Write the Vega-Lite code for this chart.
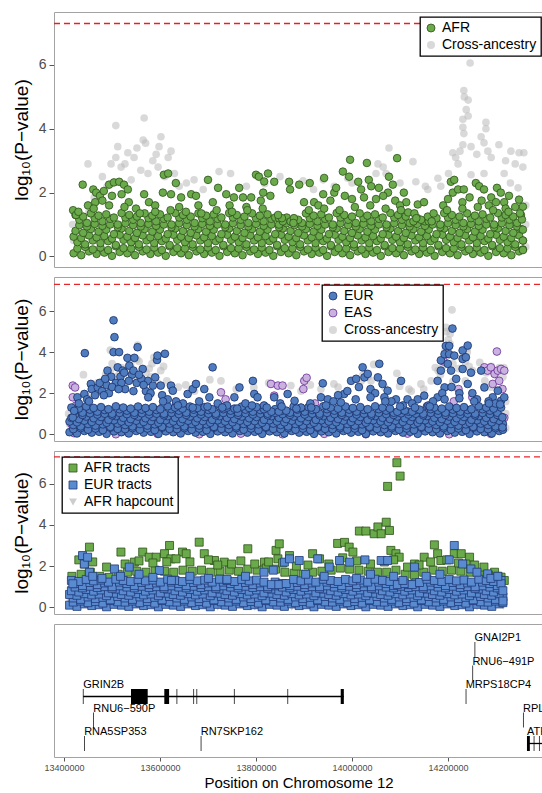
{
"$schema":"https://vega.github.io/schema/vega-lite/v6.json",
"padding":{"left":11,"top":12,"right":0,"bottom":0},
"bounds":"flush",
"spacing":10,
"config":{"font":"Liberation Sans","view":{"stroke":null},
"axis":{"grid":false,"domainColor":"#a3a3a3","domainWidth":1,"tickColor":"#555555","labelColor":"#4d4d4d","titleFontWeight":"normal","titleColor":"#000000","labelFlush":false},
"legend":{"strokeColor":"#000000","strokeWidth":1.3,"fillColor":"#ffffff","padding":4,"labelFontSize":14,"labelColor":"#000000","symbolSize":64,"symbolStrokeWidth":0.8,"rowPadding":3,"labelOffset":4,"cornerRadius":0}},
"resolve":{"scale":{"fill":"independent","stroke":"independent","shape":"independent"},"legend":{"fill":"independent","stroke":"independent","shape":"independent"}},
"datasets":{
"gw":[{"p":7.3}],
"ca":[{"x":13418,"y":1.0},{"x":13420,"y":0.5},{"x":13450,"y":2.9},{"x":13452,"y":1.4},{"x":13463,"y":1.85},{"x":13480,"y":2.5},{"x":13490,"y":2.2},{"x":13498,"y":2.9},{"x":13508,"y":4.1},{"x":13508,"y":3.1},{"x":13512,"y":3.44},{"x":13519,"y":2.8},{"x":13527,"y":2.9},{"x":13533,"y":3.25},{"x":13540,"y":2.4},{"x":13546,"y":3.1},{"x":13552,"y":3.4},{"x":13560,"y":2.7},{"x":13565,"y":3.65},{"x":13567,"y":4.34},{"x":13570,"y":3.55},{"x":13575,"y":2.6},{"x":13585,"y":3.0},{"x":13592,"y":3.2},{"x":13596,"y":2.8},{"x":13598,"y":3.44},{"x":13602,"y":3.75},{"x":13610,"y":2.5},{"x":13617,"y":3.1},{"x":13623,"y":3.3},{"x":13630,"y":2.6},{"x":13640,"y":2.2},{"x":13655,"y":2.3},{"x":13671,"y":2.4},{"x":13690,"y":2.1},{"x":13723,"y":2.66},{"x":13747,"y":2.6},{"x":13780,"y":2.2},{"x":13818,"y":2.28},{"x":13850,"y":2.5},{"x":13898,"y":2.37},{"x":13920,"y":2.1},{"x":13940,"y":2.4},{"x":13963,"y":2.2},{"x":13991,"y":2.45},{"x":14000,"y":2.3},{"x":14050,"y":2.6},{"x":14054,"y":2.9},{"x":14065,"y":2.8},{"x":14071,"y":2.6},{"x":14077,"y":3.4},{"x":14100,"y":2.3},{"x":14127,"y":2.97},{"x":14133,"y":2.34},{"x":14153,"y":2.2},{"x":14158,"y":2.1},{"x":14179,"y":2.45},{"x":14185,"y":2.2},{"x":14201,"y":2.6},{"x":14210,"y":3.25},{"x":14216,"y":3.1},{"x":14221,"y":2.9},{"x":14225,"y":3.3},{"x":14231,"y":3.5},{"x":14231,"y":4.3},{"x":14231,"y":4.05},{"x":14233,"y":5.2},{"x":14233,"y":3.85},{"x":14234,"y":5.0},{"x":14238,"y":4.6},{"x":14242,"y":4.9},{"x":14242,"y":4.4},{"x":14246,"y":6.06},{"x":14248,"y":3.44},{"x":14248,"y":2.56},{"x":14260,"y":3.2},{"x":14269,"y":3.75},{"x":14275,"y":3.56},{"x":14275,"y":2.6},{"x":14279,"y":4.2},{"x":14279,"y":4.0},{"x":14283,"y":3.3},{"x":14290,"y":3.1},{"x":14306,"y":3.5},{"x":14317,"y":2.6},{"x":14320,"y":3.0},{"x":14330,"y":2.3},{"x":14331,"y":3.3},{"x":14340,"y":2.9},{"x":14346,"y":2.15},{"x":14348,"y":3.25},{"x":14356,"y":2.8},{"x":14358,"y":3.25},{"x":14362,"y":0.3},{"x":14362,"y":1.0},{"x":14362,"y":1.6}],
"base":[{"x":13420,"y":0.1},{"x":13436,"y":0.04},{"x":13452,"y":0.16},{"x":13468,"y":0.08},{"x":13484,"y":0.12},{"x":13500,"y":0.02},{"x":13516,"y":0.14},{"x":13532,"y":0.1},{"x":13548,"y":0.04},{"x":13564,"y":0.16},{"x":13580,"y":0.08},{"x":13596,"y":0.12},{"x":13612,"y":0.02},{"x":13628,"y":0.14},{"x":13644,"y":0.1},{"x":13660,"y":0.04},{"x":13676,"y":0.16},{"x":13692,"y":0.08},{"x":13708,"y":0.12},{"x":13724,"y":0.02},{"x":13740,"y":0.14},{"x":13756,"y":0.1},{"x":13772,"y":0.04},{"x":13788,"y":0.16},{"x":13804,"y":0.08},{"x":13820,"y":0.12},{"x":13836,"y":0.02},{"x":13852,"y":0.14},{"x":13868,"y":0.1},{"x":13884,"y":0.04},{"x":13900,"y":0.16},{"x":13916,"y":0.08},{"x":13932,"y":0.12},{"x":13948,"y":0.02},{"x":13964,"y":0.14},{"x":13980,"y":0.1},{"x":13996,"y":0.04},{"x":14012,"y":0.16},{"x":14028,"y":0.08},{"x":14044,"y":0.12},{"x":14060,"y":0.02},{"x":14076,"y":0.14},{"x":14092,"y":0.1},{"x":14108,"y":0.04},{"x":14124,"y":0.16},{"x":14140,"y":0.08},{"x":14156,"y":0.12},{"x":14172,"y":0.02},{"x":14188,"y":0.14},{"x":14204,"y":0.1},{"x":14220,"y":0.04},{"x":14236,"y":0.16},{"x":14252,"y":0.08},{"x":14268,"y":0.12},{"x":14284,"y":0.02},{"x":14300,"y":0.14},{"x":14316,"y":0.1},{"x":14332,"y":0.04},{"x":14348,"y":0.16},
{"x":13428,"y":0.25},{"x":13444,"y":0.3},{"x":13460,"y":0.22},{"x":13476,"y":0.28},{"x":13492,"y":0.2},{"x":13508,"y":0.32},{"x":13524,"y":0.26},{"x":13540,"y":0.25},{"x":13556,"y":0.3},{"x":13572,"y":0.22},{"x":13588,"y":0.28},{"x":13604,"y":0.2},{"x":13620,"y":0.32},{"x":13636,"y":0.26},{"x":13652,"y":0.25},{"x":13668,"y":0.3},{"x":13684,"y":0.22},{"x":13700,"y":0.28},{"x":13716,"y":0.2},{"x":13732,"y":0.32},{"x":13748,"y":0.26},{"x":13764,"y":0.25},{"x":13780,"y":0.3},{"x":13796,"y":0.22},{"x":13812,"y":0.28},{"x":13828,"y":0.2},{"x":13844,"y":0.32},{"x":13860,"y":0.26},{"x":13876,"y":0.25},{"x":13892,"y":0.3},{"x":13908,"y":0.22},{"x":13924,"y":0.28},{"x":13940,"y":0.2},{"x":13956,"y":0.32},{"x":13972,"y":0.26},{"x":13988,"y":0.25},{"x":14004,"y":0.3},{"x":14020,"y":0.22},{"x":14036,"y":0.28},{"x":14052,"y":0.2},{"x":14068,"y":0.32},{"x":14084,"y":0.26},{"x":14100,"y":0.25},{"x":14116,"y":0.3},{"x":14132,"y":0.22},{"x":14148,"y":0.28},{"x":14164,"y":0.2},{"x":14180,"y":0.32},{"x":14196,"y":0.26},{"x":14212,"y":0.25},{"x":14228,"y":0.3},{"x":14244,"y":0.22},{"x":14260,"y":0.28},{"x":14276,"y":0.2},{"x":14292,"y":0.32},{"x":14308,"y":0.26},{"x":14324,"y":0.25},{"x":14340,"y":0.3},{"x":14356,"y":0.22},
{"x":13428,"y":0.45},{"x":13444,"y":0.38},{"x":13460,"y":0.5},{"x":13476,"y":0.42},{"x":13492,"y":0.48},{"x":13508,"y":0.36},{"x":13524,"y":0.52},{"x":13540,"y":0.45},{"x":13556,"y":0.38},{"x":13572,"y":0.5},{"x":13588,"y":0.42},{"x":13604,"y":0.48},{"x":13620,"y":0.36},{"x":13636,"y":0.52},{"x":13652,"y":0.45},{"x":13668,"y":0.38},{"x":13684,"y":0.5},{"x":13700,"y":0.42},{"x":13716,"y":0.48},{"x":13732,"y":0.36},{"x":13748,"y":0.52},{"x":13764,"y":0.45},{"x":13780,"y":0.38},{"x":13796,"y":0.5},{"x":13812,"y":0.42},{"x":13828,"y":0.48},{"x":13844,"y":0.36},{"x":13860,"y":0.52},{"x":13876,"y":0.45},{"x":13892,"y":0.38},{"x":13908,"y":0.5},{"x":13924,"y":0.42},{"x":13940,"y":0.48},{"x":13956,"y":0.36},{"x":13972,"y":0.52},{"x":13988,"y":0.45},{"x":14004,"y":0.38},{"x":14020,"y":0.5},{"x":14036,"y":0.42},{"x":14052,"y":0.48},{"x":14068,"y":0.36},{"x":14084,"y":0.52},{"x":14100,"y":0.45},{"x":14116,"y":0.38},{"x":14132,"y":0.5},{"x":14148,"y":0.42},{"x":14164,"y":0.48},{"x":14180,"y":0.36},{"x":14196,"y":0.52},{"x":14212,"y":0.45},{"x":14228,"y":0.38},{"x":14244,"y":0.5},{"x":14260,"y":0.42},{"x":14276,"y":0.48},{"x":14292,"y":0.36},{"x":14308,"y":0.52},{"x":14324,"y":0.45},{"x":14340,"y":0.38},{"x":14356,"y":0.5},
{"x":13420,"y":0.62},{"x":13436,"y":0.58},{"x":13452,"y":0.66},{"x":13468,"y":0.6},{"x":13484,"y":0.64},{"x":13500,"y":0.56},{"x":13516,"y":0.68},{"x":13532,"y":0.62},{"x":13548,"y":0.58},{"x":13564,"y":0.66},{"x":13580,"y":0.6},{"x":13596,"y":0.64},{"x":13612,"y":0.56},{"x":13628,"y":0.68},{"x":13644,"y":0.62},{"x":13660,"y":0.58},{"x":13676,"y":0.66},{"x":13692,"y":0.6},{"x":13708,"y":0.64},{"x":13724,"y":0.56},{"x":13740,"y":0.68},{"x":13756,"y":0.62},{"x":13772,"y":0.58},{"x":13788,"y":0.66},{"x":13804,"y":0.6},{"x":13820,"y":0.64},{"x":13836,"y":0.56},{"x":13852,"y":0.68},{"x":13868,"y":0.62},{"x":13884,"y":0.58},{"x":13900,"y":0.66},{"x":13916,"y":0.6},{"x":13932,"y":0.64},{"x":13948,"y":0.56},{"x":13964,"y":0.68},{"x":13980,"y":0.62},{"x":13996,"y":0.58},{"x":14012,"y":0.66},{"x":14028,"y":0.6},{"x":14044,"y":0.64},{"x":14060,"y":0.56},{"x":14076,"y":0.68},{"x":14092,"y":0.62},{"x":14108,"y":0.58},{"x":14124,"y":0.66},{"x":14140,"y":0.6},{"x":14156,"y":0.64},{"x":14172,"y":0.56},{"x":14188,"y":0.68},{"x":14204,"y":0.62},{"x":14220,"y":0.58},{"x":14236,"y":0.66},{"x":14252,"y":0.6},{"x":14268,"y":0.64},{"x":14284,"y":0.56},{"x":14300,"y":0.68},{"x":14316,"y":0.62},{"x":14332,"y":0.58},{"x":14348,"y":0.66},
{"x":13424,"y":0.8},{"x":13440,"y":0.74},{"x":13456,"y":0.86},{"x":13472,"y":0.78},{"x":13488,"y":0.84},{"x":13504,"y":0.7},{"x":13520,"y":0.88},{"x":13536,"y":0.8},{"x":13552,"y":0.74},{"x":13568,"y":0.86},{"x":13584,"y":0.78},{"x":13600,"y":0.84},{"x":13616,"y":0.7},{"x":13632,"y":0.88},{"x":13648,"y":0.8},{"x":13664,"y":0.74},{"x":13680,"y":0.86},{"x":13696,"y":0.78},{"x":13712,"y":0.84},{"x":13728,"y":0.7},{"x":13744,"y":0.88},{"x":13760,"y":0.8},{"x":13776,"y":0.74},{"x":13792,"y":0.86},{"x":13808,"y":0.78},{"x":13824,"y":0.84},{"x":13840,"y":0.7},{"x":13856,"y":0.88},{"x":13872,"y":0.8},{"x":13888,"y":0.74},{"x":13904,"y":0.86},{"x":13920,"y":0.78},{"x":13936,"y":0.84},{"x":13952,"y":0.7},{"x":13968,"y":0.88},{"x":13984,"y":0.8},{"x":14000,"y":0.74},{"x":14016,"y":0.86},{"x":14032,"y":0.78},{"x":14048,"y":0.84},{"x":14064,"y":0.7},{"x":14080,"y":0.88},{"x":14096,"y":0.8},{"x":14112,"y":0.74},{"x":14128,"y":0.86},{"x":14144,"y":0.78},{"x":14160,"y":0.84},{"x":14176,"y":0.7},{"x":14192,"y":0.88},{"x":14208,"y":0.8},{"x":14224,"y":0.74},{"x":14240,"y":0.86},{"x":14256,"y":0.78},{"x":14272,"y":0.84},{"x":14288,"y":0.7},{"x":14304,"y":0.88},{"x":14320,"y":0.8},{"x":14336,"y":0.74},{"x":14352,"y":0.86},
{"x":13432,"y":0.98},{"x":13448,"y":0.94},{"x":13464,"y":1.02},{"x":13480,"y":0.96},{"x":13496,"y":1.0},{"x":13512,"y":0.92},{"x":13528,"y":1.04},{"x":13544,"y":0.98},{"x":13560,"y":0.94},{"x":13576,"y":1.02},{"x":13592,"y":0.96},{"x":13608,"y":1.0},{"x":13624,"y":0.92},{"x":13640,"y":1.04},{"x":13656,"y":0.98},{"x":13672,"y":0.94},{"x":13688,"y":1.02},{"x":13704,"y":0.96},{"x":13720,"y":1.0},{"x":13736,"y":0.92},{"x":13752,"y":1.04},{"x":13768,"y":0.98},{"x":13784,"y":0.94},{"x":13800,"y":1.02},{"x":13816,"y":0.96},{"x":13832,"y":1.0},{"x":13848,"y":0.92},{"x":13864,"y":1.04},{"x":13880,"y":0.98},{"x":13896,"y":0.94},{"x":13912,"y":1.02},{"x":13928,"y":0.96},{"x":13944,"y":1.0},{"x":13960,"y":0.92},{"x":13976,"y":1.04},{"x":13992,"y":0.98},{"x":14008,"y":0.94},{"x":14024,"y":1.02},{"x":14040,"y":0.96},{"x":14056,"y":1.0},{"x":14072,"y":0.92},{"x":14088,"y":1.04},{"x":14104,"y":0.98},{"x":14120,"y":0.94},{"x":14136,"y":1.02},{"x":14152,"y":0.96},{"x":14168,"y":1.0},{"x":14184,"y":0.92},{"x":14200,"y":1.04},{"x":14216,"y":0.98},{"x":14232,"y":0.94},{"x":14248,"y":1.02},{"x":14264,"y":0.96},{"x":14280,"y":1.0},{"x":14296,"y":0.92},{"x":14312,"y":1.04},{"x":14328,"y":0.98},{"x":14344,"y":0.94},
{"x":13432,"y":1.15},{"x":13448,"y":1.05},{"x":13464,"y":1.2},{"x":13480,"y":1.1},{"x":13496,"y":1.18},{"x":13512,"y":1.0},{"x":13528,"y":1.22},{"x":13544,"y":1.15},{"x":13560,"y":1.05},{"x":13576,"y":1.2},{"x":13592,"y":1.1},{"x":13608,"y":1.18},{"x":13624,"y":1.0},{"x":13640,"y":1.22},{"x":13656,"y":1.15},{"x":13672,"y":1.05},{"x":13688,"y":1.2},{"x":13704,"y":1.1},{"x":13720,"y":1.18},{"x":13736,"y":1.0},{"x":13752,"y":1.22},{"x":13768,"y":1.15},{"x":13784,"y":1.05},{"x":13800,"y":1.2},{"x":13816,"y":1.1},{"x":13832,"y":1.18},{"x":13848,"y":1.0},{"x":13864,"y":1.22},{"x":13880,"y":1.15},{"x":13896,"y":1.05},{"x":13912,"y":1.2},{"x":13928,"y":1.1},{"x":13944,"y":1.18},{"x":13960,"y":1.0},{"x":13976,"y":1.22},{"x":13992,"y":1.15},{"x":14008,"y":1.05},{"x":14024,"y":1.2},{"x":14040,"y":1.1},{"x":14056,"y":1.18},{"x":14072,"y":1.0},{"x":14088,"y":1.22},{"x":14104,"y":1.15},{"x":14120,"y":1.05},{"x":14136,"y":1.2},{"x":14152,"y":1.1},{"x":14168,"y":1.18},{"x":14184,"y":1.0},{"x":14200,"y":1.22},{"x":14216,"y":1.15},{"x":14232,"y":1.05},{"x":14248,"y":1.2},{"x":14264,"y":1.1},{"x":14280,"y":1.18},{"x":14296,"y":1.0},{"x":14312,"y":1.22},{"x":14328,"y":1.15},{"x":14344,"y":1.05},
{"x":13424,"y":1.3},{"x":13440,"y":1.25},{"x":13456,"y":1.35},{"x":13472,"y":1.28},{"x":13488,"y":1.32},{"x":13504,"y":1.22},{"x":13520,"y":1.36},{"x":13536,"y":1.3},{"x":13552,"y":1.25},{"x":13568,"y":1.35},{"x":13584,"y":1.28},{"x":13600,"y":1.32},{"x":13616,"y":1.22},{"x":13632,"y":1.36},{"x":13648,"y":1.3},{"x":13664,"y":1.25},{"x":13680,"y":1.35},{"x":13696,"y":1.28},{"x":13712,"y":1.32},{"x":13728,"y":1.22},{"x":13744,"y":1.36},{"x":13760,"y":1.3},{"x":13776,"y":1.25},{"x":13792,"y":1.35},{"x":13808,"y":1.28},{"x":13824,"y":1.32},{"x":13840,"y":1.22},{"x":13856,"y":1.1},{"x":13872,"y":1.1},{"x":13888,"y":1.15},{"x":13904,"y":1.35},{"x":13920,"y":1.28},{"x":13936,"y":1.32},{"x":13952,"y":1.22},{"x":13968,"y":1.36},{"x":13984,"y":1.3},{"x":14000,"y":1.25},{"x":14016,"y":1.35},{"x":14032,"y":1.28},{"x":14048,"y":1.32},{"x":14064,"y":1.22},{"x":14080,"y":1.36},{"x":14096,"y":1.3},{"x":14112,"y":1.25},{"x":14128,"y":1.1},{"x":14144,"y":1.15},{"x":14160,"y":1.1},{"x":14176,"y":1.2},{"x":14192,"y":1.36},{"x":14208,"y":1.3},{"x":14224,"y":1.25},{"x":14240,"y":1.35},{"x":14256,"y":1.28},{"x":14272,"y":1.32},{"x":14288,"y":1.22},{"x":14304,"y":1.36},{"x":14320,"y":1.3},{"x":14336,"y":1.25},{"x":14352,"y":1.3}],
"afr":[{"x":13419,"y":1.45},{"x":13425,"y":1.3},{"x":13439,"y":2.25},{"x":13461,"y":2.1},{"x":13467,"y":2.0},{"x":13475,"y":1.9},{"x":13465,"y":1.7},{"x":13483,"y":2.05},{"x":13494,"y":2.25},{"x":13504,"y":2.32},{"x":13515,"y":2.34},{"x":13525,"y":2.25},{"x":13533,"y":2.1},{"x":13535,"y":1.7},{"x":13567,"y":1.95},{"x":13577,"y":1.7},{"x":13606,"y":2.0},{"x":13608,"y":2.56},{"x":13617,"y":2.6},{"x":13623,"y":1.95},{"x":13633,"y":2.3},{"x":13644,"y":1.85},{"x":13665,"y":1.95},{"x":13675,"y":1.9},{"x":13700,"y":2.4},{"x":13721,"y":2.15},{"x":13738,"y":1.95},{"x":13754,"y":1.85},{"x":13765,"y":2.15},{"x":13773,"y":1.85},{"x":13790,"y":1.85},{"x":13800,"y":2.56},{"x":13806,"y":2.5},{"x":13815,"y":2.0},{"x":13817,"y":2.35},{"x":13825,"y":2.6},{"x":13838,"y":2.34},{"x":13848,"y":1.2},{"x":13854,"y":1.2},{"x":13869,"y":2.34},{"x":13871,"y":2.1},{"x":13879,"y":1.2},{"x":13890,"y":2.25},{"x":13912,"y":2.3},{"x":13921,"y":1.7},{"x":13940,"y":1.95},{"x":13942,"y":2.46},{"x":13963,"y":2.0},{"x":13967,"y":2.15},{"x":13981,"y":2.66},{"x":13994,"y":2.5},{"x":13996,"y":3.03},{"x":14013,"y":2.34},{"x":14019,"y":2.1},{"x":14031,"y":2.93},{"x":14035,"y":2.4},{"x":14040,"y":2.2},{"x":14056,"y":2.15},{"x":14075,"y":2.0},{"x":14077,"y":2.5},{"x":14085,"y":2.25},{"x":14094,"y":3.08},{"x":14108,"y":2.0},{"x":14113,"y":1.7},{"x":14117,"y":1.38},{"x":14137,"y":1.63},{"x":14150,"y":1.7},{"x":14158,"y":1.25},{"x":14206,"y":2.34},{"x":14210,"y":2.0},{"x":14213,"y":2.4},{"x":14221,"y":2.1},{"x":14233,"y":2.1},{"x":14258,"y":2.3},{"x":14265,"y":2.2},{"x":14275,"y":2.1},{"x":14290,"y":1.85},{"x":14302,"y":2.15},{"x":14310,"y":2.0},{"x":14317,"y":1.7},{"x":14327,"y":1.9},{"x":14348,"y":1.78},{"x":14354,"y":1.16},{"x":14356,"y":1.56},{"x":14356,"y":0.84},{"x":14356,"y":0.5},{"x":14356,"y":0.2},
{"x":13450,"y":1.6},{"x":13480,"y":1.75},{"x":13500,"y":1.9},{"x":13520,"y":1.95},{"x":13550,"y":1.5},{"x":13590,"y":1.6},{"x":13640,"y":1.55},{"x":13680,"y":1.6},{"x":13710,"y":1.7},{"x":13745,"y":1.6},{"x":13780,"y":1.55},{"x":13810,"y":1.75},{"x":13830,"y":1.9},{"x":13900,"y":1.7},{"x":13930,"y":1.6},{"x":13955,"y":1.75},{"x":13985,"y":1.9},{"x":14000,"y":1.8},{"x":14025,"y":1.85},{"x":14050,"y":1.8},{"x":14065,"y":1.9},{"x":14090,"y":1.75},{"x":14100,"y":1.6},{"x":14130,"y":1.35},{"x":14170,"y":1.35},{"x":14190,"y":1.6},{"x":14200,"y":1.8},{"x":14230,"y":1.7},{"x":14245,"y":1.85},{"x":14270,"y":1.75},{"x":14285,"y":1.6},{"x":14300,"y":1.7},{"x":14320,"y":1.5},{"x":14340,"y":1.55},
{"x":13430,"y":1.4},{"x":13462,"y":1.5},{"x":13494,"y":1.6},{"x":13526,"y":1.55},{"x":13558,"y":1.35},{"x":13590,"y":1.4},{"x":13622,"y":1.45},{"x":13654,"y":1.4},{"x":13686,"y":1.35},{"x":13718,"y":1.45},{"x":13750,"y":1.4},{"x":13782,"y":1.45},{"x":13814,"y":1.5},{"x":13846,"y":1.3},{"x":13878,"y":1.05},{"x":13910,"y":1.45},{"x":13942,"y":1.5},{"x":13974,"y":1.45},{"x":14006,"y":1.55},{"x":14038,"y":1.6},{"x":14070,"y":1.5},{"x":14102,"y":1.45},{"x":14134,"y":1.2},{"x":14166,"y":1.1},{"x":14198,"y":1.45},{"x":14230,"y":1.5},{"x":14262,"y":1.55},{"x":14294,"y":1.45},{"x":14326,"y":1.4},{"x":14350,"y":1.35}],
"eur":[{"x":13427,"y":0.82},{"x":13430,"y":1.14},{"x":13437,"y":1.8},{"x":13452,"y":1.96},{"x":13453,"y":3.95},{"x":13466,"y":2.45},{"x":13468,"y":2.2},{"x":13481,"y":2.28},{"x":13495,"y":2.6},{"x":13502,"y":3.1},{"x":13515,"y":4.0},{"x":13515,"y":5.55},{"x":13517,"y":4.73},{"x":13524,"y":3.26},{"x":13527,"y":4.0},{"x":13535,"y":3.1},{"x":13545,"y":3.72},{"x":13549,"y":3.34},{"x":13560,"y":3.72},{"x":13567,"y":4.24},{"x":13578,"y":3.18},{"x":13589,"y":2.6},{"x":13600,"y":2.37},{"x":13605,"y":2.77},{"x":13609,"y":3.62},{"x":13610,"y":3.83},{"x":13617,"y":2.37},{"x":13626,"y":3.92},{"x":13639,"y":2.37},{"x":13643,"y":2.12},{"x":13675,"y":1.96},{"x":13686,"y":2.2},{"x":13693,"y":2.45},{"x":13711,"y":2.2},{"x":13722,"y":1.8},{"x":13729,"y":3.26},{"x":13776,"y":1.8},{"x":13787,"y":2.28},{"x":13816,"y":2.6},{"x":13819,"y":1.96},{"x":13826,"y":1.8},{"x":13862,"y":1.8},{"x":13891,"y":1.96},{"x":13906,"y":1.63},{"x":13963,"y":1.8},{"x":13967,"y":2.48},{"x":13978,"y":1.7},{"x":14013,"y":1.96},{"x":14028,"y":2.6},{"x":14039,"y":2.7},{"x":14053,"y":3.26},{"x":14057,"y":2.77},{"x":14064,"y":2.94},{"x":14086,"y":2.77},{"x":14089,"y":3.43},{"x":14096,"y":2.45},{"x":14107,"y":2.12},{"x":14125,"y":1.7},{"x":14136,"y":2.6},{"x":14150,"y":1.7},{"x":14172,"y":1.7},{"x":14186,"y":1.88},{"x":14215,"y":1.8},{"x":14215,"y":2.6},{"x":14222,"y":3.1},{"x":14222,"y":3.6},{"x":14230,"y":2.28},{"x":14230,"y":3.9},{"x":14233,"y":4.3},{"x":14237,"y":3.43},{"x":14240,"y":4.3},{"x":14240,"y":3.9},{"x":14244,"y":3.1},{"x":14247,"y":5.15},{"x":14251,"y":3.83},{"x":14255,"y":2.7},{"x":14269,"y":3.18},{"x":14269,"y":3.67},{"x":14269,"y":4.08},{"x":14276,"y":3.75},{"x":14280,"y":4.32},{"x":14280,"y":2.45},{"x":14287,"y":3.0},{"x":14309,"y":3.1},{"x":14316,"y":2.28},{"x":14334,"y":1.8},{"x":14345,"y":2.12},{"x":14352,"y":1.63},{"x":14359,"y":1.8},{"x":14355,"y":0.82},{"x":14355,"y":0.33},
{"x":13440,"y":1.5},{"x":13458,"y":1.7},{"x":13475,"y":1.9},{"x":13490,"y":2.1},{"x":13500,"y":2.4},{"x":13510,"y":2.8},{"x":13520,"y":2.5},{"x":13530,"y":2.8},{"x":13540,"y":2.2},{"x":13555,"y":2.9},{"x":13565,"y":2.5},{"x":13575,"y":2.7},{"x":13585,"y":2.1},{"x":13595,"y":2.0},{"x":13620,"y":1.9},{"x":13632,"y":1.7},{"x":13650,"y":1.6},{"x":13665,"y":1.5},{"x":13700,"y":1.6},{"x":13740,"y":1.5},{"x":13760,"y":1.4},{"x":13800,"y":1.5},{"x":13840,"y":1.4},{"x":13875,"y":1.5},{"x":13920,"y":1.3},{"x":13940,"y":1.5},{"x":13990,"y":1.6},{"x":14000,"y":1.9},{"x":14020,"y":2.1},{"x":14045,"y":2.3},{"x":14070,"y":2.2},{"x":14080,"y":2.0},{"x":14100,"y":1.8},{"x":14115,"y":1.6},{"x":14140,"y":1.4},{"x":14160,"y":1.5},{"x":14195,"y":1.4},{"x":14205,"y":1.6},{"x":14225,"y":2.0},{"x":14245,"y":2.3},{"x":14262,"y":2.0},{"x":14290,"y":2.0},{"x":14300,"y":1.7},{"x":14325,"y":1.6},{"x":14340,"y":1.5},
{"x":13505,"y":2.0},{"x":13512,"y":2.3},{"x":13532,"y":2.5},{"x":13538,"y":3.0},{"x":13548,"y":2.6},{"x":13558,"y":3.1},{"x":13570,"y":2.9},{"x":13580,"y":2.4},{"x":13485,"y":2.5},{"x":13497,"y":2.7},
{"x":13462,"y":1.6},{"x":13494,"y":1.9},{"x":13526,"y":2.2},{"x":13558,"y":2.1},{"x":13590,"y":1.8},{"x":13622,"y":1.6},{"x":13654,"y":1.4},{"x":13686,"y":1.3},{"x":13718,"y":1.35},{"x":13750,"y":1.3},{"x":13782,"y":1.25},{"x":13814,"y":1.4},{"x":13846,"y":1.3},{"x":13878,"y":1.35},{"x":13910,"y":1.25},{"x":13942,"y":1.3},{"x":13974,"y":1.4},{"x":14006,"y":1.55},{"x":14038,"y":1.7},{"x":14070,"y":1.8},{"x":14102,"y":1.6},{"x":14134,"y":1.35},{"x":14166,"y":1.3},{"x":14198,"y":1.35},{"x":14230,"y":1.7},{"x":14262,"y":1.75},{"x":14294,"y":1.6},{"x":14326,"y":1.5},{"x":14350,"y":1.45}],
"eas":[{"x":13424,"y":0.5},{"x":13427,"y":2.37},{"x":13432,"y":2.28},{"x":13427,"y":1.8},{"x":13434,"y":1.4},{"x":13747,"y":2.04},{"x":13757,"y":1.7},{"x":13855,"y":2.45},{"x":13862,"y":1.88},{"x":13870,"y":2.37},{"x":13880,"y":2.37},{"x":13925,"y":2.2},{"x":13927,"y":2.6},{"x":13932,"y":2.75},{"x":14228,"y":3.55},{"x":14250,"y":1.6},{"x":14260,"y":2.2},{"x":14290,"y":1.8},{"x":14316,"y":3.26},{"x":14323,"y":3.1},{"x":14330,"y":3.26},{"x":14338,"y":2.94},{"x":14345,"y":3.1},{"x":14352,"y":3.18},{"x":14359,"y":3.1},{"x":14343,"y":4.03},{"x":14334,"y":2.45},{"x":14348,"y":2.6},{"x":14323,"y":0.82},{"x":14330,"y":1.0},{"x":14359,"y":0.8},{"x":14355,"y":2.2},{"x":13650,"y":1.5},{"x":13620,"y":1.3},{"x":13950,"y":1.5},{"x":13430,"y":0.05},{"x":13520,"y":0.0},{"x":13610,"y":0.02},{"x":13700,"y":0.0},{"x":13790,"y":0.03},{"x":13880,"y":0.0},{"x":13970,"y":0.02},{"x":14060,"y":0.0},{"x":14150,"y":0.03},{"x":14240,"y":0.0},{"x":14330,"y":0.02}],
"afrt":[{"x":13463,"y":2.92},{"x":13452,"y":2.1},{"x":13531,"y":2.68},{"x":13560,"y":2.19},{"x":13578,"y":2.68},{"x":13592,"y":2.43},{"x":13607,"y":2.43},{"x":13625,"y":2.6},{"x":13636,"y":3.0},{"x":13639,"y":2.35},{"x":13664,"y":2.68},{"x":13672,"y":2.6},{"x":13700,"y":3.16},{"x":13711,"y":2.6},{"x":13733,"y":2.27},{"x":13754,"y":2.19},{"x":13805,"y":2.84},{"x":13841,"y":2.19},{"x":13866,"y":2.76},{"x":13870,"y":2.35},{"x":13873,"y":3.08},{"x":13895,"y":2.51},{"x":13945,"y":2.6},{"x":13960,"y":2.35},{"x":13999,"y":3.1},{"x":14014,"y":3.15},{"x":14024,"y":2.92},{"x":14032,"y":2.68},{"x":14046,"y":3.7},{"x":14060,"y":3.7},{"x":14078,"y":3.57},{"x":14086,"y":3.9},{"x":14093,"y":3.57},{"x":14104,"y":4.13},{"x":14111,"y":3.73},{"x":14107,"y":5.87},{"x":14127,"y":7.02},{"x":14134,"y":6.37},{"x":14114,"y":2.76},{"x":14125,"y":2.6},{"x":14132,"y":2.43},{"x":14165,"y":2.1},{"x":14186,"y":2.43},{"x":14208,"y":3.03},{"x":14215,"y":2.6},{"x":14222,"y":2.27},{"x":14251,"y":2.6},{"x":14266,"y":2.6},{"x":14284,"y":2.43},{"x":14276,"y":2.1},{"x":14338,"y":1.7},{"x":14352,"y":1.46},{"x":14359,"y":1.3},
{"x":13425,"y":1.5},{"x":13445,"y":1.6},{"x":13465,"y":1.7},{"x":13485,"y":1.5},{"x":13505,"y":1.45},{"x":13525,"y":1.6},{"x":13545,"y":1.7},{"x":13565,"y":1.75},{"x":13585,"y":1.7},{"x":13605,"y":1.8},{"x":13625,"y":1.75},{"x":13645,"y":1.7},{"x":13665,"y":1.8},{"x":13685,"y":1.75},{"x":13705,"y":1.8},{"x":13725,"y":1.7},{"x":13745,"y":1.75},{"x":13765,"y":1.8},{"x":13785,"y":1.75},{"x":13805,"y":1.85},{"x":13825,"y":1.8},{"x":13845,"y":1.9},{"x":13865,"y":1.85},{"x":13885,"y":1.7},{"x":13905,"y":1.65},{"x":13925,"y":1.6},{"x":13945,"y":1.7},{"x":13965,"y":1.75},{"x":13985,"y":1.8},{"x":14005,"y":1.9},{"x":14025,"y":1.85},{"x":14045,"y":1.8},{"x":14065,"y":1.75},{"x":14085,"y":1.7},{"x":14105,"y":1.7},{"x":14125,"y":1.8},{"x":14145,"y":1.6},{"x":14165,"y":1.55},{"x":14185,"y":1.7},{"x":14205,"y":1.8},{"x":14225,"y":1.75},{"x":14245,"y":1.8},{"x":14265,"y":1.75},{"x":14285,"y":1.7},{"x":14305,"y":1.6},{"x":14325,"y":1.55},{"x":14345,"y":1.5},
{"x":13440,"y":2.3},{"x":13470,"y":2.2},{"x":13500,"y":1.95},{"x":13540,"y":2.1},{"x":13570,"y":2.25},{"x":13600,"y":2.15},{"x":13630,"y":2.2},{"x":13650,"y":2.35},{"x":13680,"y":2.2},{"x":13720,"y":2.3},{"x":13740,"y":2.05},{"x":13770,"y":2.1},{"x":13790,"y":2.25},{"x":13820,"y":2.1},{"x":13850,"y":2.2},{"x":13880,"y":2.15},{"x":13910,"y":2.0},{"x":13935,"y":2.05},{"x":13980,"y":2.1},{"x":14010,"y":2.4},{"x":14040,"y":2.25},{"x":14070,"y":2.1},{"x":14100,"y":2.2},{"x":14120,"y":2.3},{"x":14150,"y":1.95},{"x":14175,"y":2.05},{"x":14200,"y":2.2},{"x":14235,"y":2.3},{"x":14260,"y":2.15},{"x":14295,"y":2.05},{"x":14315,"y":1.95}],
"eurt":[{"x":13427,"y":1.14},{"x":13448,"y":2.51},{"x":13452,"y":2.1},{"x":13459,"y":2.43},{"x":13463,"y":1.7},{"x":13517,"y":1.86},{"x":13549,"y":1.95},{"x":13614,"y":1.78},{"x":13884,"y":2.19},{"x":13895,"y":2.35},{"x":13916,"y":2.27},{"x":13956,"y":2.35},{"x":13981,"y":1.95},{"x":14003,"y":2.27},{"x":14025,"y":2.19},{"x":14058,"y":2.3},{"x":14093,"y":2.27},{"x":14107,"y":2.27},{"x":14165,"y":1.95},{"x":14240,"y":2.3},{"x":14251,"y":3.0},{"x":14269,"y":2.1},{"x":14287,"y":1.86},{"x":14323,"y":1.62},{"x":14352,"y":1.14},{"x":14356,"y":0.8},{"x":14356,"y":0.3},{"x":13470,"y":1.5},{"x":13490,"y":1.4},{"x":13530,"y":1.5},{"x":13570,"y":1.6},{"x":13600,"y":1.45},{"x":13640,"y":1.3},{"x":13680,"y":1.5},{"x":13720,"y":1.4},{"x":13760,"y":1.35},{"x":13800,"y":1.5},{"x":13840,"y":1.7},{"x":13860,"y":1.8},{"x":13930,"y":1.6},{"x":13970,"y":1.5},{"x":14040,"y":1.4},{"x":14070,"y":1.6},{"x":14120,"y":1.5},{"x":14140,"y":1.3},{"x":14190,"y":1.5},{"x":14220,"y":1.6},{"x":14300,"y":1.7},{"x":14330,"y":1.4},{"x":14345,"y":1.5}],
"hap":[{"x":13420,"y":0.3},{"x":13421,"y":0.1},{"x":13440,"y":0},{"x":13500,"y":0},{"x":13580,"y":0},{"x":13660,"y":0},{"x":13740,"y":0},{"x":13820,"y":0},{"x":13900,"y":0},{"x":13980,"y":0},{"x":14060,"y":0},{"x":14140,"y":0},{"x":14220,"y":0},{"x":14300,"y":0},{"x":14357,"y":0.2},{"x":14357,"y":0.05}],
"gl":[{"x":13440,"x2":13983,"r":3},{"x":14365,"x2":14420,"r":1}],
"gx":[{"x":13439.3,"x2":13440.8,"r":3},{"x":13539.6,"x2":13574.4,"r":3},{"x":13609,"x2":13619,"r":3},{"x":13634.5,"x2":13636,"r":3},{"x":13669.5,"x2":13671,"r":3},{"x":13676,"x2":13677.5,"r":3},{"x":13754,"x2":13755.5,"r":3},{"x":13865.5,"x2":13867,"r":3},{"x":13976.5,"x2":13983,"r":3},{"x":14236.8,"x2":14238.3,"r":3},{"x":14250.8,"x2":14252.3,"r":4},{"x":14255.3,"x2":14256.8,"r":5},{"x":14356.2,"x2":14357.7,"r":2},{"x":13461,"x2":13462.5,"r":2},{"x":13442,"x2":13443.5,"r":1},{"x":13684.8,"x2":13686.3,"r":1},{"x":14364.5,"x2":14370.5,"r":1},{"x":14378.5,"x2":14380,"r":1},{"x":14389.5,"x2":14391,"r":1}],
"gt":[{"x":13440,"r":3,"t":"GRIN2B"},{"x":14236.8,"r":3,"t":"MRPS18CP4"},{"x":14250.8,"r":4,"t":"RNU6−491P"},{"x":14255.3,"r":5,"t":"GNAI2P1"},{"x":14356.2,"r":2,"t":"RPL13AP20"},{"x":13461,"r":2,"t":"RNU6−590P"},{"x":13442,"r":1,"t":"RNA5SP353"},{"x":13684.8,"r":1,"t":"RN7SKP162"},{"x":14364.5,"r":1,"t":"ATF7IP"}]
},
"vconcat":[
{"width":489,"height":255,"resolve":{"axis":{"x":"independent"}},
"layer":[
{"data":{"name":"gw"},"mark":{"type":"rule","strokeDash":[6,4],"strokeWidth":1.4,"color":"#ee1c24"},
"encoding":{"y":{"field":"p","type":"quantitative","scale":{"domain":[-0.33,7.66],"nice":false,"zero":false},"axis":{"values":[0,2,4,6],"labelFontSize":14,"tickSize":5,"labelPadding":3,"title":"log₁₀(P−value)","titleFontSize":19,"titlePadding":7,"minExtent":16,"maxExtent":16}},"x":{"datum":13379.2,"type":"quantitative","scale":{"domain":[13379.2,14397.9],"nice":false,"zero":false},"axis":{"orient":"top","labels":false,"ticks":false,"title":null}},"x2":{"datum":14397.9},"stroke":{"value":"#ee1c24"},"strokeOpacity":{"value":1}}},
{"data":{"name":"ca"},"mark":{"type":"circle","size":58,"strokeWidth":0.8,"opacity":1,"clip":true},
"encoding":{"x":{"field":"x","type":"quantitative","axis":{"orient":"bottom","labels":false,"ticks":false,"title":null}},
"y":{"field":"y","type":"quantitative"},
"fill":{"datum":"Cross-ancestry","type":"nominal","scale":{"domain":["AFR","Cross-ancestry"],"range":["#6aaa4b","rgba(185,185,185,0.55)"]},"legend":{"title":null,"orient":"none","legendX":366,"legendY":5}},
"stroke":{"datum":"Cross-ancestry","type":"nominal","scale":{"domain":["AFR","Cross-ancestry"],"range":["#2d5219","rgba(0,0,0,0)"]},"legend":{"title":null,"orient":"none","legendX":366,"legendY":5}}}},
{"data":{"name":"base"},"mark":{"type":"circle","size":58,"strokeWidth":0.8,"opacity":1,"clip":true},
"encoding":{"x":{"field":"x","type":"quantitative","axis":null},"y":{"field":"y","type":"quantitative"},
"fill":{"datum":"AFR","type":"nominal","scale":{"domain":["AFR","Cross-ancestry"],"range":["#6aaa4b","rgba(185,185,185,0.55)"]},"legend":{"title":null,"orient":"none","legendX":366,"legendY":5}},
"stroke":{"datum":"AFR","type":"nominal","scale":{"domain":["AFR","Cross-ancestry"],"range":["#2d5219","rgba(0,0,0,0)"]},"legend":{"title":null,"orient":"none","legendX":366,"legendY":5}}}},
{"data":{"name":"afr"},"mark":{"type":"circle","size":58,"strokeWidth":0.8,"opacity":1,"clip":true},
"encoding":{"x":{"field":"x","type":"quantitative","axis":null},"y":{"field":"y","type":"quantitative"},
"fill":{"datum":"AFR","type":"nominal","scale":{"domain":["AFR","Cross-ancestry"],"range":["#6aaa4b","rgba(185,185,185,0.55)"]},"legend":{"title":null,"orient":"none","legendX":366,"legendY":5}},
"stroke":{"datum":"AFR","type":"nominal","scale":{"domain":["AFR","Cross-ancestry"],"range":["#2d5219","rgba(0,0,0,0)"]},"legend":{"title":null,"orient":"none","legendX":366,"legendY":5}}}}
]},
{"width":489,"height":164,"resolve":{"axis":{"x":"independent"}},
"layer":[
{"data":{"name":"ca"},"mark":{"type":"circle","size":60,"strokeWidth":0.8,"opacity":1,"clip":true},
"encoding":{"x":{"field":"x","type":"quantitative","scale":{"domain":[13386.4,14442.6],"nice":false,"zero":false},"axis":{"orient":"bottom","labels":false,"ticks":false,"title":null}},
"y":{"field":"y","type":"quantitative","scale":{"domain":[-0.33,7.66],"nice":false,"zero":false},"axis":{"values":[0,2,4,6],"labelFontSize":14,"tickSize":5,"labelPadding":3,"title":"log₁₀(P−value)","titleFontSize":19,"titlePadding":7,"minExtent":16,"maxExtent":16}},
"fill":{"datum":"Cross-ancestry","type":"nominal","scale":{"domain":["EUR","EAS","Cross-ancestry"],"range":["#4e7cbf","#c9b1e0","rgba(185,185,185,0.55)"]},"legend":{"title":null,"orient":"none","legendX":268,"legendY":8}},
"stroke":{"datum":"Cross-ancestry","type":"nominal","scale":{"domain":["EUR","EAS","Cross-ancestry"],"range":["#1b3068","#6b2f96","rgba(0,0,0,0)"]},"legend":{"title":null,"orient":"none","legendX":268,"legendY":8}}}},
{"data":{"name":"eas"},"mark":{"type":"circle","size":60,"strokeWidth":0.8,"opacity":1,"clip":true},
"encoding":{"x":{"field":"x","type":"quantitative","axis":null},"y":{"field":"y","type":"quantitative"},
"fill":{"datum":"EAS","type":"nominal","scale":{"domain":["EUR","EAS","Cross-ancestry"],"range":["#4e7cbf","#c9b1e0","rgba(185,185,185,0.55)"]},"legend":{"title":null,"orient":"none","legendX":268,"legendY":8}},
"stroke":{"datum":"EAS","type":"nominal","scale":{"domain":["EUR","EAS","Cross-ancestry"],"range":["#1b3068","#6b2f96","rgba(0,0,0,0)"]},"legend":{"title":null,"orient":"none","legendX":268,"legendY":8}}}},
{"data":{"name":"base"},"mark":{"type":"circle","size":60,"strokeWidth":0.8,"opacity":1,"clip":true},
"encoding":{"x":{"field":"x","type":"quantitative","axis":null},"y":{"field":"y","type":"quantitative"},
"fill":{"datum":"EUR","type":"nominal","scale":{"domain":["EUR","EAS","Cross-ancestry"],"range":["#4e7cbf","#c9b1e0","rgba(185,185,185,0.55)"]},"legend":{"title":null,"orient":"none","legendX":268,"legendY":8}},
"stroke":{"datum":"EUR","type":"nominal","scale":{"domain":["EUR","EAS","Cross-ancestry"],"range":["#1b3068","#6b2f96","rgba(0,0,0,0)"]},"legend":{"title":null,"orient":"none","legendX":268,"legendY":8}}}},
{"data":{"name":"eur"},"mark":{"type":"circle","size":60,"strokeWidth":0.8,"opacity":1,"clip":true},
"encoding":{"x":{"field":"x","type":"quantitative","axis":null},"y":{"field":"y","type":"quantitative"},
"fill":{"datum":"EUR","type":"nominal","scale":{"domain":["EUR","EAS","Cross-ancestry"],"range":["#4e7cbf","#c9b1e0","rgba(185,185,185,0.55)"]},"legend":{"title":null,"orient":"none","legendX":268,"legendY":8}},
"stroke":{"datum":"EUR","type":"nominal","scale":{"domain":["EUR","EAS","Cross-ancestry"],"range":["#1b3068","#6b2f96","rgba(0,0,0,0)"]},"legend":{"title":null,"orient":"none","legendX":268,"legendY":8}}}},
{"data":{"name":"gw"},"mark":{"type":"rule","strokeDash":[6,4],"strokeWidth":1.2,"color":"#e8262a"},
"encoding":{"y":{"field":"p","type":"quantitative"},"x":{"datum":13386.4,"type":"quantitative","axis":{"orient":"top","labels":false,"ticks":false,"title":null}},"x2":{"datum":14442.6},"stroke":{"value":"#e8262a"},"strokeOpacity":{"value":1}}}
]},
{"width":489,"height":163,"resolve":{"axis":{"x":"independent"}},
"layer":[
{"data":{"name":"hap"},"mark":{"type":"point","filled":true,"size":64,"strokeWidth":0.8,"opacity":1,"clip":true},
"encoding":{"x":{"field":"x","type":"quantitative","scale":{"domain":[13386.4,14442.6],"nice":false,"zero":false},"axis":{"orient":"bottom","labels":false,"ticks":false,"title":null}},
"y":{"field":"y","type":"quantitative","scale":{"domain":[-0.33,7.59],"nice":false,"zero":false},"axis":{"values":[0,2,4,6],"labelFontSize":14,"tickSize":5,"labelPadding":3,"title":"log₁₀(P−value)","titleFontSize":19,"titlePadding":7,"minExtent":16,"maxExtent":16}},
"fill":{"datum":"AFR hapcount","type":"nominal","scale":{"domain":["AFR tracts","EUR tracts","AFR hapcount"],"range":["#6aaa4b","#5a8bd0","#cdcdcd"]},"legend":{"title":null,"orient":"none","legendX":8,"legendY":6}},
"stroke":{"datum":"AFR hapcount","type":"nominal","scale":{"domain":["AFR tracts","EUR tracts","AFR hapcount"],"range":["#2d5219","#1f3a78","rgba(0,0,0,0)"]},"legend":{"title":null,"orient":"none","legendX":8,"legendY":6}},
"shape":{"datum":"AFR hapcount","type":"nominal","scale":{"domain":["AFR tracts","EUR tracts","AFR hapcount"],"range":["square","square","triangle-down"]},"legend":{"title":null,"orient":"none","legendX":8,"legendY":6}}}},
{"data":{"name":"afrt"},"mark":{"type":"point","filled":true,"size":64,"strokeWidth":0.8,"opacity":1,"clip":true},
"encoding":{"x":{"field":"x","type":"quantitative","axis":null},"y":{"field":"y","type":"quantitative"},
"fill":{"datum":"AFR tracts","type":"nominal","scale":{"domain":["AFR tracts","EUR tracts","AFR hapcount"],"range":["#6aaa4b","#5a8bd0","#cdcdcd"]},"legend":{"title":null,"orient":"none","legendX":8,"legendY":6}},
"stroke":{"datum":"AFR tracts","type":"nominal","scale":{"domain":["AFR tracts","EUR tracts","AFR hapcount"],"range":["#2d5219","#1f3a78","rgba(0,0,0,0)"]},"legend":{"title":null,"orient":"none","legendX":8,"legendY":6}},
"shape":{"datum":"AFR tracts","type":"nominal","scale":{"domain":["AFR tracts","EUR tracts","AFR hapcount"],"range":["square","square","triangle-down"]},"legend":{"title":null,"orient":"none","legendX":8,"legendY":6}}}},
{"data":{"name":"base"},"mark":{"type":"point","filled":true,"size":64,"strokeWidth":0.8,"opacity":1,"clip":true},
"encoding":{"x":{"field":"x","type":"quantitative","axis":null},"y":{"field":"y","type":"quantitative"},
"fill":{"datum":"EUR tracts","type":"nominal","scale":{"domain":["AFR tracts","EUR tracts","AFR hapcount"],"range":["#6aaa4b","#5a8bd0","#cdcdcd"]},"legend":{"title":null,"orient":"none","legendX":8,"legendY":6}},
"stroke":{"datum":"EUR tracts","type":"nominal","scale":{"domain":["AFR tracts","EUR tracts","AFR hapcount"],"range":["#2d5219","#1f3a78","rgba(0,0,0,0)"]},"legend":{"title":null,"orient":"none","legendX":8,"legendY":6}},
"shape":{"datum":"EUR tracts","type":"nominal","scale":{"domain":["AFR tracts","EUR tracts","AFR hapcount"],"range":["square","square","triangle-down"]},"legend":{"title":null,"orient":"none","legendX":8,"legendY":6}}}},
{"data":{"name":"eurt"},"mark":{"type":"point","filled":true,"size":64,"strokeWidth":0.8,"opacity":1,"clip":true},
"encoding":{"x":{"field":"x","type":"quantitative","axis":null},"y":{"field":"y","type":"quantitative"},
"fill":{"datum":"EUR tracts","type":"nominal","scale":{"domain":["AFR tracts","EUR tracts","AFR hapcount"],"range":["#6aaa4b","#5a8bd0","#cdcdcd"]},"legend":{"title":null,"orient":"none","legendX":8,"legendY":6}},
"stroke":{"datum":"EUR tracts","type":"nominal","scale":{"domain":["AFR tracts","EUR tracts","AFR hapcount"],"range":["#2d5219","#1f3a78","rgba(0,0,0,0)"]},"legend":{"title":null,"orient":"none","legendX":8,"legendY":6}},
"shape":{"datum":"EUR tracts","type":"nominal","scale":{"domain":["AFR tracts","EUR tracts","AFR hapcount"],"range":["square","square","triangle-down"]},"legend":{"title":null,"orient":"none","legendX":8,"legendY":6}}}},
{"data":{"name":"gw"},"mark":{"type":"rule","strokeDash":[6,4],"strokeWidth":1.2,"color":"#e8262a"},
"encoding":{"y":{"field":"p","type":"quantitative"},"x":{"datum":13386.4,"type":"quantitative","axis":{"orient":"top","labels":false,"ticks":false,"title":null}},"x2":{"datum":14442.6},"stroke":{"value":"#e8262a"},"strokeOpacity":{"value":1}}}
]},
{"width":489,"height":133,"resolve":{"axis":{"x":"independent"}},
"layer":[
{"data":{"name":"gl"},"mark":{"type":"rule","color":"#000000","strokeWidth":1.3,"clip":true},
"encoding":{"x":{"field":"x","type":"quantitative","scale":{"domain":[13379.2,14397.9],"nice":false,"zero":false},"axis":{"orient":"bottom","values":[13400,13600,13800,14000,14200],"labelExpr":"format(datum.value*1000,'d')","labelFontSize":9,"tickSize":4,"labelPadding":2,"title":"Position on Chromosome 12","titleFontSize":15,"titlePadding":3}},
"x2":{"field":"x2"},
"y":{"field":"r","type":"nominal","scale":{"type":"band","domain":[5,4,3,2,1],"paddingInner":0.36,"paddingOuter":0.51,"align":0.75},"axis":{"labels":false,"ticks":false,"title":null}}}},
{"data":{"name":"gx"},"mark":{"type":"rect","color":"#000000","clip":true},
"encoding":{"x":{"field":"x","type":"quantitative","axis":null},"x2":{"field":"x2"},"y":{"field":"r","type":"nominal"}}},
{"data":{"name":"gt"},"mark":{"type":"text","align":"left","baseline":"alphabetic","dy":-8,"fontSize":11,"color":"#000000","clip":true},
"encoding":{"x":{"field":"x","type":"quantitative","axis":{"orient":"top","labels":false,"ticks":false,"title":null}},"y":{"field":"r","type":"nominal"},"text":{"field":"t"}}}
]}
]
}
